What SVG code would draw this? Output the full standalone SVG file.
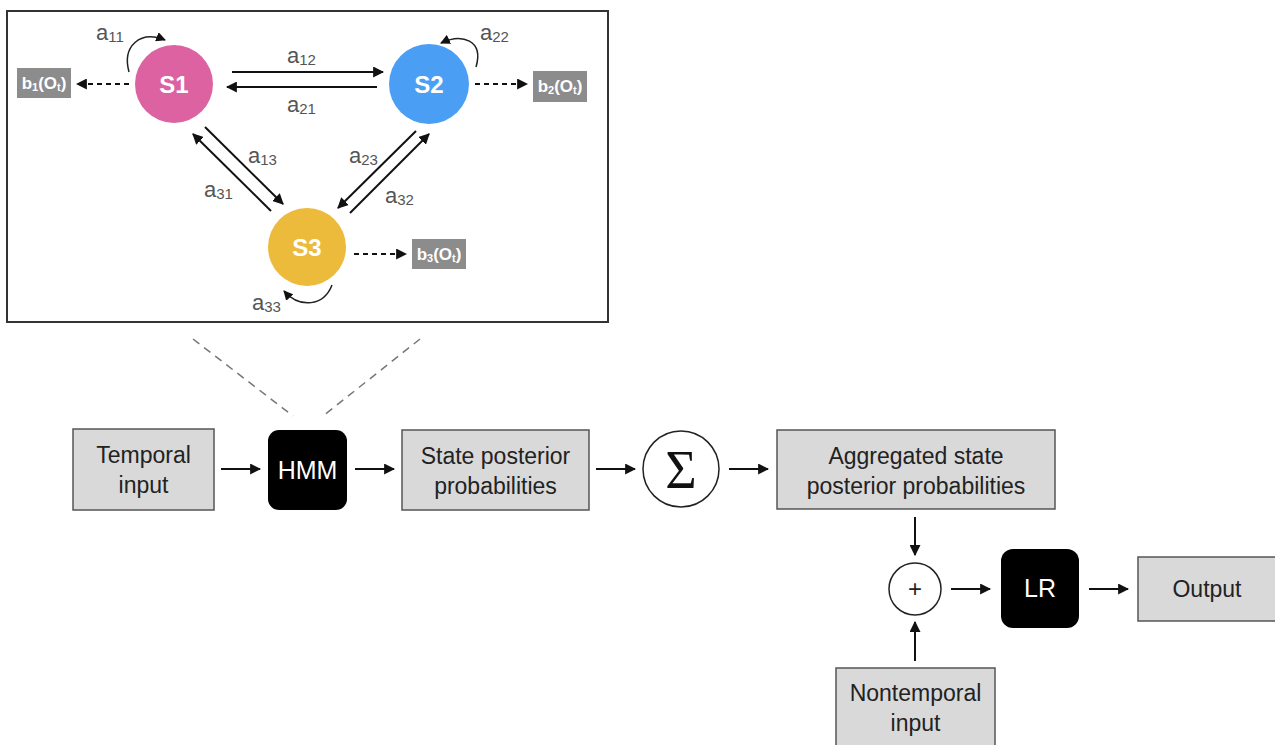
<svg xmlns="http://www.w3.org/2000/svg" width="1275" height="745" viewBox="0 0 1275 745">
<style>
.box{fill:#d9d9d9;stroke:#555;stroke-width:1.5}
.blk{fill:#000}
.t{font-family:"Liberation Sans",Arial,sans-serif;font-size:23px;fill:#222;text-anchor:middle}
.tw{font-family:"Liberation Sans",Arial,sans-serif;font-size:25px;fill:#fff;text-anchor:middle}
.st{font-family:"Liberation Sans",Arial,sans-serif;font-size:24px;font-weight:bold;fill:#fff;text-anchor:middle}
.lbl{font-family:"Liberation Sans",Arial,sans-serif;font-size:22px;fill:#555}
.sub{font-size:15px}
.bo{fill:#8c8c8c}
.bt{font-family:"Liberation Sans",Arial,sans-serif;font-size:17px;font-weight:bold;fill:#fff;text-anchor:middle}
.ln{stroke:#111;stroke-width:2;fill:none}
.dsh{stroke:#111;stroke-width:2;fill:none;stroke-dasharray:5 4}
.gd{stroke:#777;stroke-width:1.5;fill:none;stroke-dasharray:8 6}
.thin{stroke:#222;stroke-width:1.5;fill:none}
</style>
<defs>
<marker id="ah" viewBox="0 0 10 10" refX="9" refY="5" markerWidth="5.5" markerHeight="5.5" orient="auto" markerUnits="strokeWidth">
<path d="M0,0 L10,5 L0,10 z" fill="#111"/>
</marker>
<marker id="ah2" viewBox="0 0 10 10" refX="9" refY="5" markerWidth="6.5" markerHeight="6.5" orient="auto" markerUnits="strokeWidth">
<path d="M0,0 L10,5 L0,10 z" fill="#111"/>
</marker>
</defs>
<rect width="1275" height="745" fill="#fff"/>

<g id="hmm-panel">
<rect x="7" y="11" width="601" height="311" fill="#fff" stroke="#333" stroke-width="2"/>
</g>

<g id="connectors">
<line class="ln" x1="232" y1="72" x2="383" y2="72" marker-end="url(#ah)"/>
<line class="ln" x1="377" y1="87" x2="227" y2="87" marker-end="url(#ah)"/>
<line class="ln" x1="205" y1="127" x2="283" y2="204" marker-end="url(#ah)"/>
<line class="ln" x1="271" y1="211" x2="193" y2="134" marker-end="url(#ah)"/>
<line class="ln" x1="416" y1="131" x2="338" y2="208" marker-end="url(#ah)"/>
<line class="ln" x1="350" y1="213" x2="429" y2="134" marker-end="url(#ah)"/>
<path class="thin" d="M129,72 C122,46 140,30 165,40" marker-end="url(#ah2)"/>
<path class="thin" d="M476,67 C484,40 462,33 441,43" marker-end="url(#ah2)"/>
<path class="thin" d="M332,285 C324,306 300,309 284,291" marker-end="url(#ah2)"/>
<line class="dsh" x1="129" y1="84" x2="77" y2="84" marker-end="url(#ah)"/>
<line class="dsh" x1="475" y1="84" x2="527" y2="84" marker-end="url(#ah)"/>
<line class="dsh" x1="354" y1="254" x2="406" y2="254" marker-end="url(#ah)"/>
<line class="gd" x1="193" y1="339" x2="293" y2="416"/>
<line class="gd" x1="420" y1="339" x2="323" y2="416"/>
<line class="ln" x1="221" y1="469" x2="260" y2="469" marker-end="url(#ah)"/>
<line class="ln" x1="355" y1="469" x2="394" y2="469" marker-end="url(#ah)"/>
<line class="ln" x1="596" y1="469" x2="635" y2="469" marker-end="url(#ah)"/>
<line class="ln" x1="729" y1="469" x2="768" y2="469" marker-end="url(#ah)"/>
<line class="ln" x1="915" y1="517" x2="915" y2="555" marker-end="url(#ah)"/>
<line class="ln" x1="915" y1="661" x2="915" y2="622" marker-end="url(#ah)"/>
<line class="ln" x1="951" y1="589" x2="990" y2="589" marker-end="url(#ah)"/>
<line class="ln" x1="1089" y1="589" x2="1128" y2="589" marker-end="url(#ah)"/>
</g>

<g id="labels">
<text class="lbl" x="96" y="40">a<tspan class="sub" dy="2">11</tspan></text>
<text class="lbl" x="287" y="63">a<tspan class="sub" dy="2">12</tspan></text>
<text class="lbl" x="287" y="112">a<tspan class="sub" dy="2">21</tspan></text>
<text class="lbl" x="480" y="40">a<tspan class="sub" dy="2">22</tspan></text>
<text class="lbl" x="248" y="163">a<tspan class="sub" dy="2">13</tspan></text>
<text class="lbl" x="204" y="197">a<tspan class="sub" dy="2">31</tspan></text>
<text class="lbl" x="349" y="163">a<tspan class="sub" dy="2">23</tspan></text>
<text class="lbl" x="385" y="203">a<tspan class="sub" dy="2">32</tspan></text>
<text class="lbl" x="252" y="310">a<tspan class="sub" dy="2">33</tspan></text>
</g>

<g id="S1">
<circle cx="174" cy="84" r="39" fill="#dc62a2"/>
<text class="st" x="174" y="93">S1</text>
</g>
<g id="S2">
<circle cx="429" cy="84" r="40" fill="#4a9ff5"/>
<text class="st" x="429" y="93">S2</text>
</g>
<g id="S3">
<circle cx="307" cy="247" r="39" fill="#ecbb3c"/>
<text class="st" x="307" y="256">S3</text>
</g>

<g id="b1">
<rect class="bo" x="17" y="68" width="54" height="30"/>
<text class="bt" x="44" y="89">b<tspan font-size="11" dy="2">1</tspan><tspan dy="-2">(O</tspan><tspan font-size="11" dy="2">t</tspan><tspan dy="-2">)</tspan></text>
</g>
<g id="b2">
<rect class="bo" x="533" y="71" width="54" height="31"/>
<text class="bt" x="560" y="92">b<tspan font-size="11" dy="2">2</tspan><tspan dy="-2">(O</tspan><tspan font-size="11" dy="2">t</tspan><tspan dy="-2">)</tspan></text>
</g>
<g id="b3">
<rect class="bo" x="412" y="239" width="54" height="30"/>
<text class="bt" x="439" y="260">b<tspan font-size="11" dy="2">3</tspan><tspan dy="-2">(O</tspan><tspan font-size="11" dy="2">t</tspan><tspan dy="-2">)</tspan></text>
</g>

<g id="temporal-input">
<rect class="box" x="73" y="429" width="141" height="81"/>
<text class="t" x="143.5" y="463">Temporal</text>
<text class="t" x="143.5" y="493">input</text>
</g>
<g id="HMM">
<rect class="blk" x="268" y="430" width="79" height="80" rx="11"/>
<text class="tw" x="307.5" y="479">HMM</text>
</g>
<g id="state-posterior">
<rect class="box" x="402" y="430" width="187" height="80"/>
<text class="t" x="495.5" y="464">State posterior</text>
<text class="t" x="495.5" y="494">probabilities</text>
</g>
<g id="sum">
<circle cx="681" cy="469" r="38" fill="#fff" stroke="#222" stroke-width="1.5"/>
<text x="681" y="488" font-family="'Liberation Serif','DejaVu Serif',serif" font-size="54" fill="#111" text-anchor="middle">Σ</text>
</g>
<g id="aggregated">
<rect class="box" x="777" y="430" width="278" height="79"/>
<text class="t" x="916" y="464">Aggregated state</text>
<text class="t" x="916" y="494">posterior probabilities</text>
</g>
<g id="plus">
<circle cx="915" cy="589" r="26" fill="#fff" stroke="#222" stroke-width="1.5"/>
<text x="915" y="597" font-family="'Liberation Sans',Arial,sans-serif" font-size="24" fill="#222" text-anchor="middle">+</text>
</g>
<g id="LR">
<rect class="blk" x="1001" y="549" width="78" height="79" rx="12"/>
<text class="tw" x="1040" y="597">LR</text>
</g>
<g id="output">
<rect class="box" x="1138" y="557" width="142" height="64"/>
<text class="t" x="1207" y="597">Output</text>
</g>
<g id="nontemporal-input">
<rect class="box" x="836" y="668" width="159" height="90"/>
<text class="t" x="915.5" y="701">Nontemporal</text>
<text class="t" x="915.5" y="731">input</text>
</g>
</svg>
